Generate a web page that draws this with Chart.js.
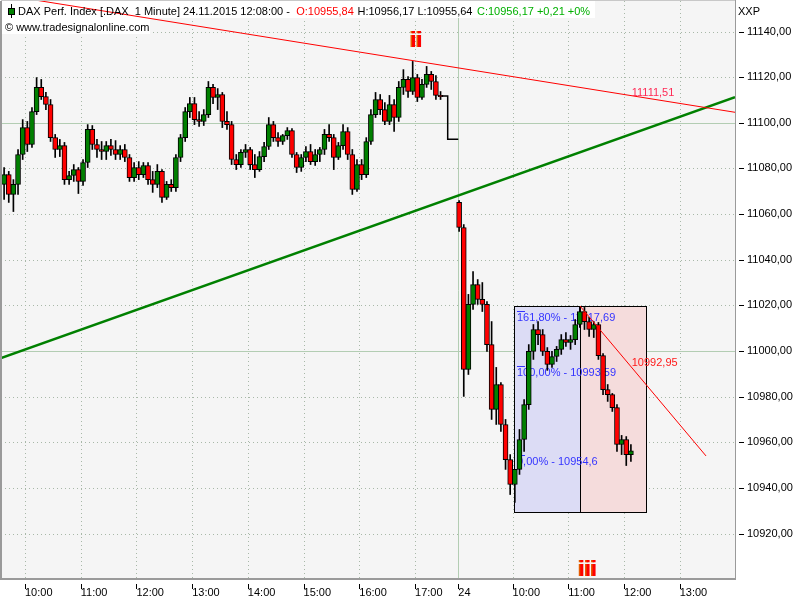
<!DOCTYPE html>
<html>
<head>
<meta charset="utf-8">
<script src="https://cdn.jsdelivr.net/npm/chart.js@4.4.1/dist/chart.umd.min.js"></script>
<style>
html,body{margin:0;padding:0;background:#ffffff;}
#c{display:block;}
</style>
</head>
<body>
<canvas id="c" width="800" height="600"></canvas>
<script>
// ================= DATA =================
// x axis: minutes after 09:00 on 23.11.2015; session of 24.11 starts at 525 (09:00)
const barMinutes = 5;
const day1FirstBar = 35;   // 09:35
const day2FirstBar = 525;  // 24.11 09:00

const day1Open = [11073.0,11077.3,11068.6,11073.0,11086.1,11097.9,11090.5,11104.9,11115.5,11111.5,
  11108.0,11093.5,11088.3,11090.0,11075.1,11076.9,11079.5,11074.3,11082.6,11097.1,
  11090.5,11088.3,11087.4,11090.0,11088.3,11086.1,11088.3,11084.8,11076.0,11080.4,
  11077.3,11081.3,11075.1,11073.0,11078.7,11067.3,11073.0,11071.6,11084.8,11093.5,
  11104.9,11108.4,11101.4,11100.6,11103.6,11115.5,11111.1,11112.4,11100.6,11099.2,
  11083.9,11081.7,11087.0,11088.3,11081.7,11079.5,11085.2,11089.6,11099.2,11093.5,
  11091.8,11094.4,11096.6,11086.1,11080.4,11084.8,11087.4,11083.0,11086.1,11088.3,
  11094.9,11093.5,11084.8,11090.0,11096.2,11086.1,11070.8,11081.7,11077.3,11091.8,
  11103.6,11110.2,11105.8,11100.6,11108.0,11102.3,11115.5,11119.0,11113.7,11119.8,
  11111.1,11116.8,11121.2,11118.1,11112.0];
const day1High = [11080.4,11078.7,11075.1,11088.3,11101.4,11100.6,11106.7,11119.8,11119.0,11113.3,
  11110.2,11094.9,11092.7,11091.4,11078.7,11081.7,11080.4,11083.9,11099.2,11098.8,
  11092.7,11091.8,11091.8,11092.7,11092.2,11090.0,11090.5,11086.1,11082.6,11083.0,
  11082.6,11082.6,11078.7,11081.7,11079.5,11074.3,11075.1,11086.1,11094.9,11106.7,
  11111.1,11111.1,11104.9,11105.8,11118.1,11116.8,11115.0,11113.3,11104.9,11100.6,
  11086.1,11088.3,11090.5,11089.2,11086.1,11087.4,11091.4,11102.3,11100.6,11095.7,
  11094.9,11097.9,11097.5,11087.0,11086.1,11089.6,11090.5,11088.3,11089.2,11097.1,
  11099.2,11094.9,11091.4,11099.2,11097.9,11088.3,11083.9,11083.9,11093.5,11105.8,
  11113.3,11112.4,11108.9,11112.0,11110.2,11118.1,11123.3,11120.3,11126.9,11121.2,
  11119.0,11124.7,11122.5,11120.7,11113.7];
const day1Low = [11066.4,11065.1,11061.1,11068.6,11083.9,11087.4,11089.2,11103.6,11110.2,11105.8,
  11091.8,11084.8,11085.2,11073.0,11073.0,11074.3,11069.0,11072.5,11080.4,11088.3,
  11084.8,11083.9,11083.9,11085.7,11083.9,11083.9,11083.0,11074.3,11074.3,11075.1,
  11076.0,11073.0,11069.5,11071.6,11065.1,11066.4,11069.9,11069.9,11083.0,11091.8,
  11102.3,11099.2,11098.4,11098.8,11102.3,11108.4,11105.8,11097.9,11097.1,11081.7,
  11079.5,11080.4,11084.8,11079.5,11076.0,11078.7,11083.0,11088.3,11091.8,11089.6,
  11090.5,11092.7,11084.8,11078.2,11078.7,11083.0,11081.7,11081.3,11083.0,11086.1,
  11091.8,11079.5,11083.9,11088.3,11083.9,11068.6,11069.9,11075.1,11076.0,11090.5,
  11102.3,11103.6,11099.2,11099.2,11096.2,11100.6,11112.4,11111.1,11112.4,11109.3,
  11110.2,11115.5,11114.6,11110.2,11110.2];
const day1Close = [11077.3,11068.6,11073.0,11086.1,11097.9,11090.5,11104.9,11115.5,11111.5,11108.0,
  11093.5,11088.3,11090.0,11075.1,11076.9,11079.5,11074.3,11082.6,11097.1,11090.5,
  11088.3,11087.4,11090.0,11088.3,11086.1,11088.3,11084.8,11076.0,11080.4,11077.3,
  11081.3,11075.1,11073.0,11078.7,11067.3,11073.0,11071.6,11084.8,11093.5,11104.9,
  11108.4,11101.4,11100.6,11103.6,11115.5,11111.1,11112.4,11100.6,11099.2,11083.9,
  11081.7,11087.0,11088.3,11081.7,11079.5,11085.2,11089.6,11099.2,11093.5,11091.8,
  11094.4,11096.6,11086.1,11080.4,11084.8,11087.4,11083.0,11086.1,11088.3,11094.9,
  11093.5,11084.8,11090.0,11096.2,11086.1,11070.8,11081.7,11077.3,11091.8,11103.6,
  11110.2,11105.8,11100.6,11108.0,11102.3,11115.5,11119.0,11113.7,11119.8,11111.1,
  11116.8,11121.2,11118.1,11112.0,11111.5];

const day2Open = [11065.1,11054.1,10991.9,11020.4,11029.1,11022.6,11020.4,11002.8,10974.4,10985.3,
  10967.8,10952.4,10941.5,10948.1,10961.2,10976.5,10999.8,11009.4,11007.2,10999.8,
  10994.1,10997.6,11000.7,11005.0,11003.7,11005.0,11011.6,11017.3,11012.9,11009.4,
  11011.6,10998.0,10983.1,10980.9,10975.2,10959.0,10961.2,10954.6];
const day2High = [11065.9,11055.4,11024.8,11034.8,11031.3,11030.0,11021.7,11012.9,10992.8,10986.2,
  10970.0,10954.6,10948.1,10965.6,10978.7,11002.8,11011.6,11012.9,11009.4,11001.5,
  10999.8,11002.0,11007.2,11008.1,11006.8,11013.8,11019.6,11019.1,11014.7,11012.9,
  11012.5,10998.9,10985.3,10981.4,10976.5,10963.0,10962.5,10959.0];
const day2Low = [11052.4,10980.1,10989.7,11018.2,11020.4,11017.3,10999.8,10970.0,10967.8,10964.7,
  10948.1,10937.1,10933.6,10945.9,10956.0,10974.4,10996.3,11002.8,10998.0,10991.5,
  10992.8,10995.4,10998.5,11002.0,11000.7,11002.8,11010.3,11009.4,11006.4,11005.9,
  10996.3,10980.9,10977.9,10973.5,10956.0,10954.6,10949.8,10951.6];
const day2Close = [11054.1,10991.9,11020.4,11029.1,11022.6,11020.4,11002.8,10974.4,10985.3,10967.8,
  10952.4,10941.5,10948.1,10961.2,10976.5,10999.8,11009.4,11007.2,10999.8,10994.1,
  10997.6,11000.7,11005.0,11003.7,11005.0,11011.6,11017.3,11012.9,11009.4,11011.6,
  10998.0,10983.1,10980.9,10975.2,10959.0,10961.2,10954.6,10956.2];

// closing auction prints of 23.11 (line)
const closingTimes = [508.7, 515.2, 515.2, 526.6];
const closingValues = [11111.7, 11111.7, 11092.8, 11092.8];

// trend lines
const resistanceTimes = [34.15, 824.6];
const resistanceValues = [11156.2, 11104.6];
const supportTimes = [34.15, 824.6];
const supportValues = [10996.9, 11111.2];
const downTimes = [657.7, 793.4];
const downValues = [11019.7, 10954.0];

// line value labels
const lineLabelTexts = ['11111,51', '10992,95'];
const lineLabelTimes = [713.4, 713.4];
const lineLabelValues = [11111.51, 10992.95];
const lineLabelColors = ['#ff2a55', '#ff1a1a'];

// fibonacci projection boxes
const fibBoxTimes = [586.6, 657.7, 728.8];
const fibBoxValues = [11019.7, 10929.4];
const fibPercents = ['161,80%', '100,00%', '0,00%'];
const fibLevels = [11017.69, 10993.59, 10954.6];

// Elliott wave labels
const waveTexts = ['ii', 'iii'];
const waveTimes = [481.1, 665.7];
const waveValues = [11133.3, 10901.2];

// axes
const timeTicks = [60, 120, 180, 240, 300, 360, 420, 480, 526.6, 585, 645, 705, 765];
const timeTickLabels = ['10:00','11:00','12:00','13:00','14:00','15:00','16:00','17:00','24','10:00','11:00','12:00','13:00'];
const dayTickIndex = 8;
const priceTicks = [10920, 10940, 10960, 10980, 11000, 11020, 11040, 11060, 11080, 11100, 11120, 11140];
const solidPriceLines = [11000, 11100];

// header (last bar)
const headerTitle = 'DAX Perf. Index [.DAX  1 Minute] 24.11.2015 12:08:00 - ';
const lastBarOHLC = [10955.84, 10956.17, 10955.64, 10956.17];
const lastChange = [0.21, 0];

// ================= BUILD =================
const fmt = (v, d) => v.toFixed(d).replace('.', ',');
const bodyData = [], wickData = [], bodyColors = [];
function addSession(first, o, h, l, c) {
  for (let i = 0; i < o.length; i++) {
    const t = first + i * barMinutes + barMinutes / 2;
    wickData.push({x: t, y: [l[i], h[i]]});
    bodyData.push({x: t, y: [Math.min(o[i], c[i]), Math.max(o[i], c[i])]});
    bodyColors.push(c[i] >= o[i] ? '#008000' : '#ff0000');
  }
}
addSession(day1FirstBar, day1Open, day1High, day1Low, day1Close);
addSession(day2FirstBar, day2Open, day2High, day2Low, day2Close);
const pts = (ts, vs) => ts.map((t, i) => ({x: t, y: vs[i]}));

const FONT = '"Liberation Sans", Arial, sans-serif';
Chart.defaults.font.family = FONT;
Chart.defaults.font.size = 11;
Chart.defaults.color = '#000';

const decor = {
  id: 'decor',
  beforeDraw(chart) {
    const {ctx, chartArea: a} = chart;
    ctx.save();
    ctx.fillStyle = '#ffffff';
    ctx.fillRect(0, 0, chart.width, chart.height);
    ctx.fillStyle = '#f5f5f5';
    ctx.fillRect(a.left, a.top, a.right - a.left, a.bottom - a.top);
    ctx.restore();
  },
  beforeDatasetsDraw(chart) {
    const {ctx, chartArea: a, scales: {x, y}} = chart;
    ctx.save();
    const ln = (x1, y1, x2, y2) => { ctx.beginPath(); ctx.moveTo(x1, y1); ctx.lineTo(x2, y2); ctx.stroke(); };
    // dotted grid
    ctx.strokeStyle = '#a8b8a8';
    ctx.lineWidth = 1;
    ctx.setLineDash([1, 3]);
    timeTicks.forEach((t, i) => {
      if (i === dayTickIndex) return;
      const px = Math.round(x.getPixelForValue(t)) + 0.5;
      ln(px, a.top, px, a.bottom);
    });
    priceTicks.forEach(v => {
      const py = Math.round(y.getPixelForValue(v)) + 0.5;
      ln(a.left, py, a.right, py);
    });
    ctx.setLineDash([]);
    // solid separators
    ctx.strokeStyle = '#b3cdb3';
    solidPriceLines.forEach(v => {
      const py = Math.round(y.getPixelForValue(v)) + 0.5;
      ln(a.left, py, a.right, py);
    });
    const dx = Math.round(x.getPixelForValue(timeTicks[dayTickIndex])) + 0.5;
    ln(dx, a.top, dx, a.bottom);
    // header white boxes
    ctx.fillStyle = '#ffffff';
    ctx.fillRect(a.left, a.top, 594, 17);
    ctx.fillRect(a.left, a.top + 17, 149, 16);
    // fib boxes
    const bx = fibBoxTimes.map(t => x.getPixelForValue(t));
    const byTop = y.getPixelForValue(fibBoxValues[0]);
    const byBot = y.getPixelForValue(fibBoxValues[1]);
    ctx.fillStyle = '#dcdcf5';
    ctx.fillRect(bx[0], byTop, bx[1] - bx[0], byBot - byTop);
    ctx.fillStyle = '#f5dcdc';
    ctx.fillRect(bx[1], byTop, bx[2] - bx[1], byBot - byTop);
    ctx.strokeStyle = '#000';
    ctx.lineWidth = 1;
    ctx.strokeRect(Math.round(bx[0]) + 0.5, Math.round(byTop) + 0.5, Math.round(bx[2] - bx[0]), Math.round(byBot - byTop));
    ln(Math.round(bx[1]) + 0.5, Math.round(byTop), Math.round(bx[1]) + 0.5, Math.round(byBot));
    // fib levels
    ctx.font = '11px ' + FONT;
    ctx.strokeStyle = '#3434ff';
    ctx.fillStyle = '#3434ff';
    ctx.textBaseline = 'top';
    ctx.textAlign = 'left';
    fibLevels.forEach((v, i) => {
      const py = Math.round(y.getPixelForValue(v)) + 0.5;
      ln(bx[0] + 3, py, bx[0] + 11, py);
      ctx.fillText(fibPercents[i] + ' - ' + String(v).replace('.', ','), bx[0] + 3, py + 1);
    });
    ctx.restore();
  },
  afterDraw(chart) {
    const {ctx, chartArea: a, scales: {x, y}} = chart;
    ctx.save();
    const ln = (x1, y1, x2, y2) => { ctx.beginPath(); ctx.moveTo(x1, y1); ctx.lineTo(x2, y2); ctx.stroke(); };
    // plot frame
    ctx.strokeStyle = '#9a9a9a';
    ctx.lineWidth = 2;
    ln(a.left, a.top, a.left, a.bottom);
    ln(a.left, a.bottom - 1, a.right, a.bottom - 1);
    ctx.lineWidth = 1;
    ln(a.right + 0.5, a.top - 1, a.right + 0.5, a.bottom);
    ctx.strokeStyle = '#c8c8c8';
    ln(a.left, a.top - 0.5, a.right, a.top - 0.5);
    // axis tick marks
    ctx.strokeStyle = '#000';
    timeTicks.forEach(t => {
      const px = Math.round(x.getPixelForValue(t)) + 0.5;
      ln(px, a.bottom + 4, px, a.bottom + 9);
    });
    priceTicks.forEach(v => {
      const py = Math.round(y.getPixelForValue(v)) + 0.5;
      ln(a.right + 4, py, a.right + 9, py);
    });
    // line value labels
    ctx.font = '11px ' + FONT;
    ctx.textAlign = 'left';
    ctx.textBaseline = 'alphabetic';
    lineLabelTexts.forEach((s, i) => {
      ctx.fillStyle = lineLabelColors[i];
      ctx.fillText(s, x.getPixelForValue(lineLabelTimes[i]), y.getPixelForValue(lineLabelValues[i]) - 1);
    });
    // wave labels
    ctx.font = 'bold 22px ' + FONT;
    ctx.textAlign = 'center';
    waveTexts.forEach((s, i) => {
      const px = x.getPixelForValue(waveTimes[i]);
      const py = y.getPixelForValue(waveValues[i]);
      ctx.fillStyle = '#e65a00';
      ctx.fillText(s, px - 1, py);
      ctx.fillStyle = '#ff0000';
      ctx.fillText(s, px + 0.5, py);
    });
    // header
    ctx.font = '11px ' + FONT;
    ctx.textAlign = 'left';
    ctx.textBaseline = 'alphabetic';
    ctx.strokeStyle = '#000';
    ctx.lineWidth = 1;
    ln(11.5, 4, 11.5, 18);
    ctx.fillStyle = '#008000';
    ctx.fillRect(8.5, 8.5, 6, 6);
    ctx.strokeRect(8.5, 8.5, 6, 6);
    const parts = [
      [headerTitle, '#000'],
      ['O:' + fmt(lastBarOHLC[0], 2), '#ff0000'],
      [' H:' + fmt(lastBarOHLC[1], 2) + ' L:' + fmt(lastBarOHLC[2], 2) + ' ', '#000'],
      ['C:' + fmt(lastBarOHLC[3], 2) + ' +' + fmt(lastChange[0], 2) + ' +' + lastChange[1] + '%', '#00b000']
    ];
    let hx = 18;
    parts.forEach(([s, c]) => { ctx.fillStyle = c; ctx.fillText(s, hx, 15); hx += ctx.measureText(s).width * 1.012; });
    ctx.fillStyle = '#000';
    ctx.fillText('\u00a9 www.tradesignalonline.com', 5, 31);
    ctx.fillText('XXP', 738, 15);
    ctx.restore();
  }
};

const TARGET = {left: 1, top: 1, right: 735, bottom: 580};
const chart = new Chart(document.getElementById('c'), {
  type: 'bar',
  data: {
    datasets: [
      {type: 'line', data: pts(resistanceTimes, resistanceValues), borderColor: '#ff0000', borderWidth: 1, pointRadius: 0, fill: false, order: 1},
      {type: 'line', data: pts(downTimes, downValues), borderColor: '#ff0000', borderWidth: 1, pointRadius: 0, fill: false, order: 1},
      {type: 'line', data: pts(supportTimes, supportValues), borderColor: '#008000', borderWidth: 2.5, pointRadius: 0, fill: false, order: 2},
      {type: 'line', data: pts(closingTimes, closingValues), borderColor: '#000000', borderWidth: 1.5, pointRadius: 0, fill: false, order: 3},
      {type: 'bar', data: bodyData, backgroundColor: bodyColors, borderColor: '#000000', borderWidth: 1, borderSkipped: false, barThickness: 5, grouped: false, order: 4},
      {type: 'bar', data: wickData, backgroundColor: '#000000', borderWidth: 0, barThickness: 1, grouped: false, order: 5}
    ]
  },
  options: {
    responsive: false,
    animation: false,
    devicePixelRatio: 1,
    events: [],
    layout: {autoPadding: false, padding: {left: 1, top: 1, right: 0, bottom: 0}},
    plugins: {legend: {display: false}, title: {display: false}, tooltip: {enabled: false}},
    scales: {
      x: {
        type: 'linear', min: 34.15, max: 824.6, offset: false,
        grid: {display: false, drawTicks: false, offset: false},
        border: {display: false},
        afterBuildTicks: s => { s.ticks = timeTicks.map(v => ({value: v})); },
        afterFit: s => { s.height = 20; s.paddingLeft = 0; s.paddingRight = 0; s.paddingTop = 0; s.paddingBottom = 0; },
        ticks: {autoSkip: false, maxRotation: 0, minRotation: 0, align: 'start', padding: 6, color: '#000',
          font: {size: 11}, callback: (v, i) => timeTickLabels[i]}
      },
      y: {
        type: 'linear', position: 'right', min: 10899.64, max: 11153.37,
        grid: {display: false, drawTicks: false},
        border: {display: false},
        afterBuildTicks: s => { s.ticks = priceTicks.map(v => ({value: v})); },
        afterFit: s => { s.width = 65; s.paddingTop = 0; s.paddingBottom = 0; s.paddingLeft = 0; s.paddingRight = 0; },
        ticks: {padding: 12, color: '#000', font: {size: 11}, callback: v => fmt(v, 2)}
      }
    }
  },
  plugins: [decor]
});
// make sure the plot area sits exactly where the reference has it
const p = chart.options.layout.padding;
const ca = chart.chartArea;
const dT = ca.top - TARGET.top, dB = TARGET.bottom - ca.bottom;
if (Math.abs(dT) > 0.5 || Math.abs(dB) > 0.5) {
  p.top = p.top - dT;
  p.bottom = p.bottom - dB;
  chart.update();
}
</script>
</body>
</html>
